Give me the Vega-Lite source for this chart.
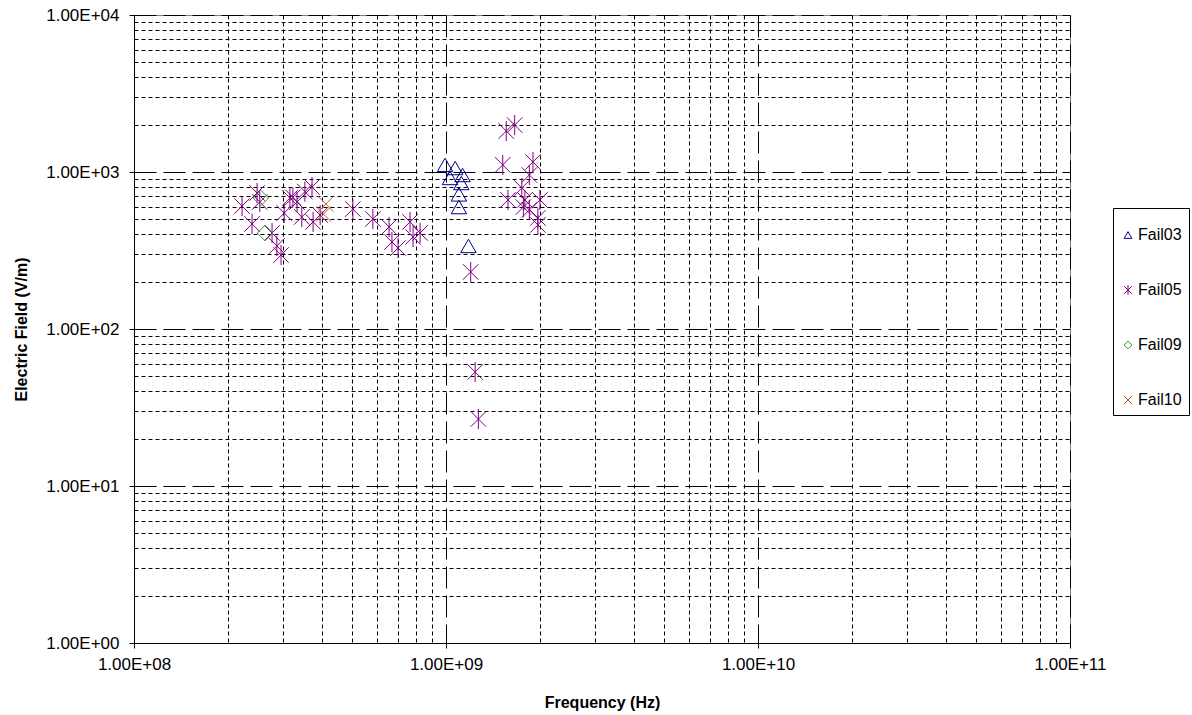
{
  "$schema": "https://vega.github.io/schema/vega-lite/v6.json",
  "autosize": "none",
  "width": 936,
  "height": 628,
  "padding": {"left": 134, "top": 15, "right": 122, "bottom": 72},
  "background": "white",
  "config": {
    "view": {"stroke": "#808080", "strokeWidth": 1},
    "font": "Liberation Sans",
    "axis": {
      "labelFont": "Liberation Sans",
      "labelFontSize": 17,
      "labelColor": "black",
      "titleFont": "Liberation Sans",
      "titleFontSize": 16,
      "titleFontWeight": "bold",
      "titleColor": "black",
      "domainColor": "black",
      "tickColor": "black",
      "gridColor": "black",
      "gridOpacity": 1,
      "gridWidth": 1
    }
  },
  "data": {
    "values": [
      {"series": "Fail03", "freq": 9.93e8, "field": 1110},
      {"series": "Fail03", "freq": 1.07e9, "field": 1060},
      {"series": "Fail03", "freq": 1.03e9, "field": 916},
      {"series": "Fail03", "freq": 1.13e9, "field": 957},
      {"series": "Fail03", "freq": 1.12e9, "field": 851},
      {"series": "Fail03", "freq": 1.10e9, "field": 720},
      {"series": "Fail03", "freq": 1.10e9, "field": 598},
      {"series": "Fail03", "freq": 1.18e9, "field": 338},
      {"series": "Fail05", "freq": 2.22e8, "field": 607},
      {"series": "Fail05", "freq": 2.48e8, "field": 735},
      {"series": "Fail05", "freq": 2.53e8, "field": 644},
      {"series": "Fail05", "freq": 2.39e8, "field": 467},
      {"series": "Fail05", "freq": 2.77e8, "field": 409},
      {"series": "Fail05", "freq": 2.87e8, "field": 338},
      {"series": "Fail05", "freq": 2.96e8, "field": 296},
      {"series": "Fail05", "freq": 3.03e8, "field": 548},
      {"series": "Fail05", "freq": 3.16e8, "field": 683},
      {"series": "Fail05", "freq": 3.23e8, "field": 690},
      {"series": "Fail05", "freq": 3.33e8, "field": 644},
      {"series": "Fail05", "freq": 3.53e8, "field": 750},
      {"series": "Fail05", "freq": 3.72e8, "field": 802},
      {"series": "Fail05", "freq": 3.45e8, "field": 517},
      {"series": "Fail05", "freq": 3.75e8, "field": 481},
      {"series": "Fail05", "freq": 3.95e8, "field": 532},
      {"series": "Fail05", "freq": 5.03e8, "field": 581},
      {"series": "Fail05", "freq": 5.83e8, "field": 502},
      {"series": "Fail05", "freq": 6.57e8, "field": 447},
      {"series": "Fail05", "freq": 6.71e8, "field": 358},
      {"series": "Fail05", "freq": 7.02e8, "field": 328},
      {"series": "Fail05", "freq": 7.67e8, "field": 481},
      {"series": "Fail05", "freq": 7.84e8, "field": 386},
      {"series": "Fail05", "freq": 8.26e8, "field": 409},
      {"series": "Fail05", "freq": 1.20e9, "field": 231},
      {"series": "Fail05", "freq": 1.24e9, "field": 53.2},
      {"series": "Fail05", "freq": 1.27e9, "field": 26.7},
      {"series": "Fail05", "freq": 1.56e9, "field": 1824},
      {"series": "Fail05", "freq": 1.66e9, "field": 1990},
      {"series": "Fail05", "freq": 1.52e9, "field": 1110},
      {"series": "Fail05", "freq": 1.90e9, "field": 1158},
      {"series": "Fail05", "freq": 1.85e9, "field": 957},
      {"series": "Fail05", "freq": 1.75e9, "field": 791},
      {"series": "Fail05", "freq": 1.58e9, "field": 664},
      {"series": "Fail05", "freq": 1.79e9, "field": 664},
      {"series": "Fail05", "freq": 1.77e9, "field": 598},
      {"series": "Fail05", "freq": 1.85e9, "field": 573},
      {"series": "Fail05", "freq": 2.00e9, "field": 664},
      {"series": "Fail05", "freq": 1.97e9, "field": 460},
      {"series": "Fail05", "freq": 1.97e9, "field": 510},
      {"series": "Fail09", "freq": 2.55e8, "field": 683},
      {"series": "Fail09", "freq": 2.63e8, "field": 409},
      {"series": "Fail10", "freq": 4.12e8, "field": 625},
      {"series": "Fail10", "freq": 4.05e8, "field": 540}
    ]
  },
  "mark": {"type": "point", "filled": false, "strokeWidth": 1, "opacity": 1, "size": 240},
  "encoding": {
    "x": {
      "field": "freq",
      "type": "quantitative",
      "title": "Frequency (Hz)",
      "scale": {"type": "log", "domain": [1e8, 1e11], "nice": false},
      "axis": {
        "values": [1e8, 2e8, 3e8, 4e8, 5e8, 6e8, 7e8, 8e8, 9e8, 1e9, 2e9, 3e9, 4e9, 5e9, 6e9, 7e9, 8e9, 9e9, 1e10, 2e10, 3e10, 4e10, 5e10, 6e10, 7e10, 8e10, 9e10, 1e11],
        "grid": true,
        "gridDash": {"condition": {"test": "abs(log(datum.value)/LN10 - round(log(datum.value)/LN10)) < 0.001", "value": [22, 7]}, "value": [4, 3]},
        "tickOpacity": {"condition": {"test": "abs(log(datum.value)/LN10 - round(log(datum.value)/LN10)) < 0.001", "value": 1}, "value": 0},
        "labelExpr": "abs(log(datum.value)/LN10 - round(log(datum.value)/LN10)) < 0.001 ? '1.00E+' + (round(log(datum.value)/LN10) < 10 ? '0' : '') + round(log(datum.value)/LN10) : ''",
        "tickSize": 5,
        "labelPadding": 8,
        "titlePadding": 22,
        "labelFlush": false,
        "labelOverlap": false
      }
    },
    "y": {
      "field": "field",
      "type": "quantitative",
      "title": "Electric Field (V/m)",
      "scale": {"type": "log", "domain": [1, 1e4], "nice": false},
      "axis": {
        "values": [1, 2, 3, 4, 5, 6, 7, 8, 9, 10, 20, 30, 40, 50, 60, 70, 80, 90, 100, 200, 300, 400, 500, 600, 700, 800, 900, 1000, 2000, 3000, 4000, 5000, 6000, 7000, 8000, 9000, 10000],
        "grid": true,
        "gridDash": {"condition": {"test": "abs(log(datum.value)/LN10 - round(log(datum.value)/LN10)) < 0.001", "value": [22, 7]}, "value": [4, 3]},
        "tickOpacity": {"condition": {"test": "abs(log(datum.value)/LN10 - round(log(datum.value)/LN10)) < 0.001", "value": 1}, "value": 0},
        "labelExpr": "abs(log(datum.value)/LN10 - round(log(datum.value)/LN10)) < 0.001 ? '1.00E+0' + round(log(datum.value)/LN10) : ''",
        "tickSize": 5,
        "labelPadding": 10,
        "titlePadding": 16,
        "labelFlush": false,
        "labelOverlap": false
      }
    },
    "color": {
      "field": "series",
      "type": "nominal",
      "scale": {"domain": ["Fail03", "Fail05", "Fail09", "Fail10"], "range": ["#000080", "#800080", "#339933", "#C0602A"]},
      "legend": {
        "title": " ",
        "titleFontSize": 4,
        "titlePadding": 8,
        "orient": "none",
        "legendX": 979,
        "legendY": 193,
        "strokeColor": "black",
        "padding": 7,
        "rowPadding": 39,
        "symbolSize": 60,
        "symbolStrokeWidth": 1,
        "labelFont": "Liberation Sans",
        "labelFontSize": 16,
        "labelColor": "black",
        "labelOffset": 2,
        "fillColor": "white"
      }
    },
    "shape": {
      "field": "series",
      "type": "nominal",
      "scale": {"domain": ["Fail03", "Fail05", "Fail09", "Fail10"], "range": ["triangle-up", "M-1,-1L1,1M-1,1L1,-1M0,-1.3L0,1.3", "diamond", "M-1,-1L1,1M-1,1L1,-1"]}
    }
  }
}
